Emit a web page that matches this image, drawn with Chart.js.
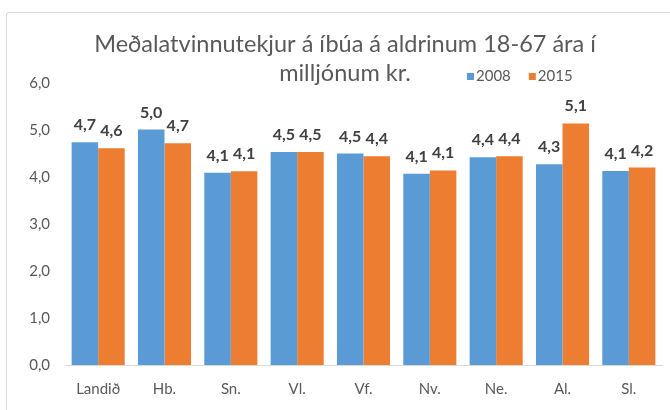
<!DOCTYPE html>
<html><head><meta charset="utf-8">
<script src="https://cdn.jsdelivr.net/npm/chart.js@4.4.0/dist/chart.umd.min.js"></script>
<style>
html,body{margin:0;padding:0;background:#fff;overflow:hidden;width:670px;height:410px;}
#frame{position:absolute;left:6px;top:12px;width:720px;height:430px;border:1px solid #d9d9d9;border-radius:3px;pointer-events:none;}
#wrap{position:absolute;left:0;top:0;width:690px;height:410px;}
</style></head><body>
<div id="frame"></div>
<div id="wrap"><canvas id="c" width="690" height="410" style="width:690px;height:410px"></canvas></div>
<script>
const categories = ['Landið', 'Hb.', 'Sn.', 'Vl.', 'Vf.', 'Nv.', 'Ne.', 'Al.', 'Sl.'];
const seriesNames = ['2008', '2015'];
const values2008 = [4.74, 5.01, 4.09, 4.53, 4.50, 4.07, 4.42, 4.27, 4.13];
const values2015 = [4.61, 4.72, 4.12, 4.53, 4.44, 4.14, 4.44, 5.14, 4.20];
const yTicks = [0, 1, 2, 3, 4, 5, 6];
const titleLines = ['Meðalatvinnutekjur á íbúa á aldrinum 18-67 ára í', 'milljónum kr.'];

const fmt = v => v.toFixed(1).replace('.', ',');
const FONT = 'Lato';

const valueLabels = {
  id: 'valueLabels',
  afterDatasetsDraw(chart) {
    const ctx = chart.ctx;
    ctx.save();
    ctx.font = 'bold 16px ' + FONT;
    ctx.fillStyle = '#404040';
    ctx.textAlign = 'center';
    ctx.textBaseline = 'alphabetic';
    chart.data.datasets.forEach((ds, i) => {
      chart.getDatasetMeta(i).data.forEach((el, j) => {
        ctx.fillText(fmt(ds.data[j]), el.x, el.y - 12);
      });
    });
    ctx.restore();
  }
};

const inlineLegend = {
  id: 'inlineLegend',
  afterDraw(chart) {
    const ctx = chart.ctx;
    ctx.save();
    ctx.font = '15px ' + FONT;
    ctx.textBaseline = 'middle';
    ctx.textAlign = 'left';
    let x = 467;
    const yc = 76.5;
    chart.data.datasets.forEach(ds => {
      ctx.fillStyle = ds.backgroundColor;
      ctx.fillRect(x, yc - 3.5, 7, 7);
      ctx.fillStyle = '#595959';
      ctx.fillText(ds.label, x + 9, yc);
      x += 9 + ctx.measureText(ds.label).width + 18;
    });
    ctx.restore();
  }
};

new Chart(document.getElementById('c'), {
  type: 'bar',
  data: {
    labels: categories,
    datasets: [
      { label: seriesNames[0], data: values2008, backgroundColor: '#5B9BD5', categoryPercentage: 0.8, barPercentage: 1.0 },
      { label: seriesNames[1], data: values2015, backgroundColor: '#ED7D31', categoryPercentage: 0.8, barPercentage: 1.0 }
    ]
  },
  options: {
    responsive: false,
    animation: false,
    devicePixelRatio: 1,
    layout: { padding: { left: 28, right: 28, top: 0, bottom: 0 } },
    plugins: {
      legend: { display: false },
      tooltip: { enabled: false },
      title: {
        display: true,
        text: titleLines,
        color: '#595959',
        font: { family: FONT, size: 23.5, weight: 'normal', lineHeight: 29 / 23.5 },
        padding: { top: 30, bottom: -5 }
      }
    },
    scales: {
      x: {
        grid: { display: false, drawTicks: false },
        border: { display: true, color: '#d9d9d9', width: 1 },
        ticks: { color: '#595959', font: { family: FONT, size: 15 }, padding: 15, maxRotation: 0 },
        afterFit(s) { s.height = 45; }
      },
      y: {
        min: 0, max: 6,
        grid: { display: false, drawTicks: false },
        border: { display: false },
        ticks: { color: '#595959', font: { family: FONT, size: 15 }, padding: 15, callback: v => fmt(v) },
        afterBuildTicks(s) { s.ticks = yTicks.map(v => ({ value: v })); },
        afterFit(s) { s.width = 37; }
      }
    }
  },
  plugins: [valueLabels, inlineLegend]
});
</script>
</body></html>
